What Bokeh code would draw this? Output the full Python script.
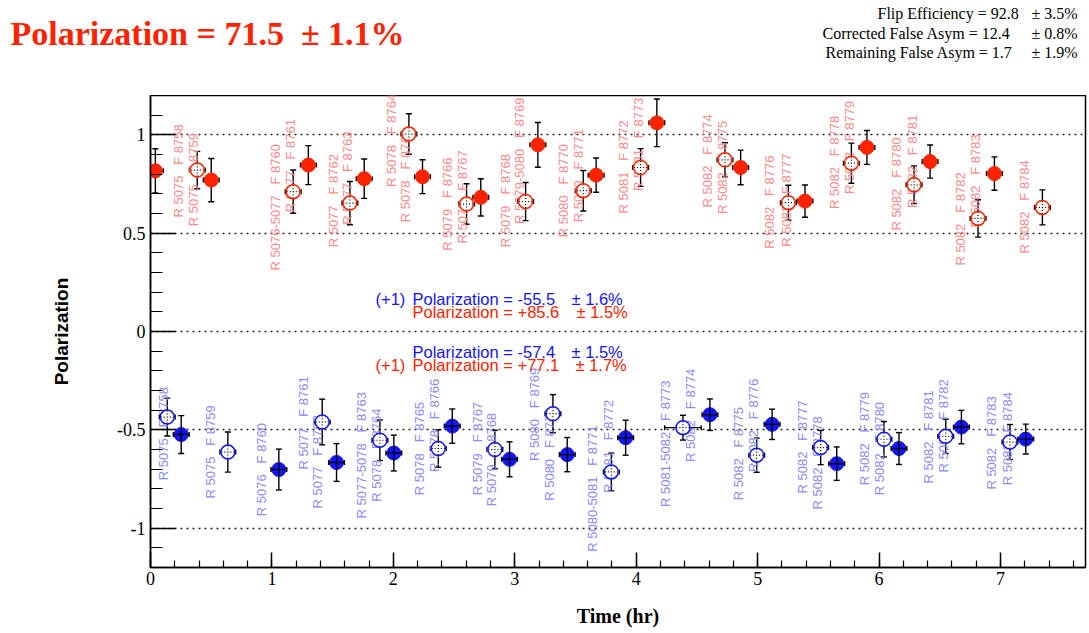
import numpy as np
from bokeh.plotting import figure
from bokeh.models import (ColumnDataSource, Whisker, TeeHead, Label,
                          SingleIntervalTicker)
from bokeh.core.properties import value
from bokeh.embed import file_html
from bokeh.resources import INLINE

# ---------------------------------------------------------------- data
# Upper band: (+1) polarization, filled = one spin state, open = the other
t_red_fill = [0.04, 0.50, 1.30, 1.76, 2.24, 2.72, 3.19, 3.67, 4.17, 4.86, 5.39, 5.90, 6.42, 6.95]
p_red_fill = [0.817, 0.770, 0.846, 0.777, 0.787, 0.682, 0.949, 0.795, 1.061, 0.834, 0.663, 0.936, 0.864, 0.803]
e_red_fill = [0.112, 0.110, 0.099, 0.100, 0.086, 0.095, 0.114, 0.087, 0.121, 0.088, 0.082, 0.086, 0.084, 0.085]

t_red_open = [0.385, 1.175, 1.642, 2.128, 2.603, 3.089, 3.564, 4.036, 4.731, 5.253, 5.772, 6.288, 6.815, 7.345]
p_red_open = [0.821, 0.711, 0.653, 1.004, 0.648, 0.661, 0.716, 0.834, 0.873, 0.655, 0.856, 0.746, 0.575, 0.631]
e_red_open = [0.095, 0.110, 0.110, 0.103, 0.103, 0.097, 0.103, 0.096, 0.087, 0.089, 0.102, 0.096, 0.095, 0.089]

# Lower band
t_blue_open = [0.138, 0.637, 1.414, 1.889, 2.370, 2.836, 3.314, 3.795, 4.385, 4.992, 5.519, 6.040, 6.549, 7.078]
p_blue_open = [-0.435, -0.613, -0.460, -0.553, -0.595, -0.600, -0.418, -0.714, -0.489, -0.629, -0.590, -0.548, -0.533, -0.562]
e_blue_open = [0.096, 0.102, 0.116, 0.103, 0.095, 0.098, 0.097, 0.096, 0.063, 0.087, 0.087, 0.090, 0.087, 0.089]
w_blue_open = [0.065, 0.065, 0.065, 0.065, 0.065, 0.065, 0.065, 0.065, 0.150, 0.065, 0.065, 0.065, 0.065, 0.065]

t_blue_fill = [0.253, 1.057, 1.532, 2.004, 2.485, 2.957, 3.432, 3.913, 4.607, 5.119, 5.651, 6.164, 6.678, 7.208]
p_blue_fill = [-0.524, -0.702, -0.666, -0.618, -0.481, -0.650, -0.626, -0.540, -0.423, -0.472, -0.672, -0.595, -0.486, -0.547]
e_blue_fill = [0.096, 0.104, 0.096, 0.091, 0.087, 0.089, 0.087, 0.089, 0.080, 0.077, 0.085, 0.081, 0.085, 0.076]

time_halfwidth = 0.065

# Run / flip tags
flips = list(range(8758, 8785))
runs_upper = ["5075", "5075", "5076-5077", "5077", "5077", "5077", "5078", "5078",
              "5079", "5079", "5079", "5079-5080", "5080", "5080", "5081", "5081"] + ["5082"] * 11
runs_lower = ["5075", "5075", "5076", "5077", "5077", "5077-5078", "5078", "5078",
              "5078", "5079", "5079", "5080", "5080", "5080-5081", "5081", "5081-5082"] + ["5082"] * 11

# tag anchors (time, polarization) where each vertical tag starts
tag_t_upper = [0.228, 0.352, 1.030, 1.153, 1.505, 1.625, 1.983, 2.100, 2.449, 2.568, 2.924, 3.042, 3.405, 3.523,
               3.894, 4.017, 4.586, 4.714, 5.096, 5.239, 5.629, 5.758, 6.145, 6.274, 6.667, 6.796, 7.194]
tag_p_upper = [0.580, 0.535, 0.310, 0.606, 0.428, 0.543, 0.735, 0.555, 0.411, 0.447, 0.428, 0.547, 0.479, 0.555,
               0.600, 0.715, 0.631, 0.597, 0.421, 0.431, 0.623, 0.699, 0.513, 0.628, 0.335, 0.529, 0.397]
tag_t_lower = [0.110, 0.494, 0.912, 1.263, 1.378, 1.736, 1.862, 2.218, 2.339, 2.691, 2.809, 3.163, 3.284, 3.643,
               3.770, 4.242, 4.448, 4.846, 4.965, 5.368, 5.492, 5.881, 6.007, 6.403, 6.530, 6.925, 7.057]
tag_p_lower = [-0.756, -0.849, -0.939, -0.702, -0.900, -0.951, -0.866, -0.832, -0.714, -0.832, -0.888, -0.658,
               -0.861, -1.120, -0.821, -0.892, -0.663, -0.858, -0.714, -0.824, -0.905, -0.782, -0.832, -0.773,
               -0.717, -0.804, -0.782]

y_ticks = [-1, -0.5, 0, 0.5, 1]
y_tick_labels = ["-1", "-0.5", "0", "0.5", "1"]

# ---------------------------------------------------------------- layout
W, H = 1089, 633
HEAD = 95                                    # height of the header strip
FL, FR, FT, FB = 150, 1085, HEAD, 567        # frame edges on the page
X0, X1 = 0.0, 7.7
Y0, Y1 = -1.2, 1.2

def cx(px):
    return X0 + (px - FL) / (FR - FL) * (X1 - X0)

def cy(py):
    return Y1 - (py - FT) / (FB - FT) * (Y1 - Y0)

RED = "#ff2200"
BLUE = "#1414ff"
RED_TAG = "#ff8a8a"
BLUE_TAG = "#8a8aff"
SERIF = "Liberation Serif"
SANS = "Liberation Sans"

# ---------------------------------------------------------------- header strip
head = figure(width=W, height=HEAD, x_range=(0, W), y_range=(HEAD, 0),
              output_backend="svg", toolbar_location=None,
              x_axis_location=None, y_axis_location=None,
              min_border=0, outline_line_color=None)
head.grid.visible = False

def head_text(text, px, py, color="black", size="16px", style="normal"):
    head.add_layout(Label(x=px, y=py, text=text, text_color=color,
                          text_font=SERIF, text_font_size=size,
                          text_font_style=style, text_align="left",
                          text_baseline="middle"))

head_text("Polarization = 71.5\u00a0 \u00b1 1.1%", 10, 33, RED, size="34px", style="bold")
head_text("Flip Efficiency = 92.8", 877, 13)
head_text("\u00b1 3.5%", 1031, 13)
head_text("Corrected False Asym = 12.4", 822, 33)
head_text("\u00b1 0.8%", 1031, 33)
head_text("Remaining False Asym = 1.7", 825, 52)
head_text("\u00b1 1.9%", 1031, 52)

# ---------------------------------------------------------------- main plot
p = figure(width=W, height=H - HEAD, x_range=(X0, X1), y_range=(Y0, Y1),
           output_backend="svg", toolbar_location=None,
           min_border_left=FL, min_border_right=W - FR,
           min_border_top=0, min_border_bottom=H - FB)
p.background_fill_color = "white"
p.border_fill_color = "white"
p.outline_line_color = "black"
p.outline_line_width = 1.5

p.xgrid.visible = False
p.ygrid.ticker = SingleIntervalTicker(interval=0.5, num_minor_ticks=5)
p.ygrid.grid_line_color = "#222222"
p.ygrid.grid_line_width = 1.6
p.ygrid.grid_line_dash = "2 4"

xa = p.xaxis[0]
xa.ticker = SingleIntervalTicker(interval=1, num_minor_ticks=5)
xa.major_tick_in, xa.major_tick_out = 15, 0
xa.minor_tick_in, xa.minor_tick_out = 7, 0
xa.axis_line_width = 1.5
xa.major_tick_line_width = 1.5
xa.minor_tick_line_width = 1.2
xa.major_label_text_font = SERIF
xa.major_label_text_font_size = "18px"
xa.major_label_text_color = "black"
xa.major_label_standoff = 4
xa.axis_label = "Time (hr)"
xa.axis_label_text_font = SERIF
xa.axis_label_text_font_style = "bold"
xa.axis_label_text_font_size = "20px"
xa.axis_label_text_color = "black"
xa.axis_label_standoff = 17

ya = p.yaxis[0]
ya.ticker = SingleIntervalTicker(interval=0.5, num_minor_ticks=5)
ya.major_tick_in, ya.major_tick_out = 25, 0
ya.minor_tick_in, ya.minor_tick_out = 12, 0
ya.axis_line_width = 1.5
ya.major_tick_line_width = 1.5
ya.minor_tick_line_width = 1.2
ya.major_label_overrides = {v: s for v, s in zip(y_ticks, y_tick_labels)}
ya.major_label_text_font = SERIF
ya.major_label_text_font_size = "18px"
ya.major_label_text_color = "black"
ya.major_label_standoff = 5
ya.axis_label = "Polarization"
ya.axis_label_text_font = SANS
ya.axis_label_text_font_style = "bold"
ya.axis_label_text_font_size = "19px"
ya.axis_label_text_color = "black"
ya.axis_label_standoff = 42

# ---------------------------------------------------------------- run/flip tags
def tag_source(ts, ps, runs):
    texts = [f"R {r}\u00a0\u00a0 F {f}" for r, f in zip(runs, flips)]
    return ColumnDataSource(dict(t=ts, p=ps, text=texts))

for ts, ps, runs, col in ((tag_t_upper, tag_p_upper, runs_upper, RED_TAG),
                          (tag_t_lower, tag_p_lower, runs_lower, BLUE_TAG)):
    p.text(x="t", y="p", text="text", source=tag_source(ts, ps, runs),
           angle=np.pi / 2, text_align="left", text_baseline="middle",
           text_font=value(SANS), text_font_size="13px", text_color=col)

# ---------------------------------------------------------------- points
def point_source(ts, ps, es, ws):
    ts, ps, es, ws = map(np.asarray, (ts, ps, es, ws))
    return ColumnDataSource(dict(t=ts, p=ps, lo=ps - es, hi=ps + es,
                                 tl=ts - ws, th=ts + ws))

def add_errors(src, level):
    for dim, base, lo, hi, size in (("height", "t", "lo", "hi", 6),
                                    ("width", "p", "tl", "th", 5)):
        p.add_layout(Whisker(
            source=src, base=base, lower=lo, upper=hi, dimension=dim,
            line_color="black", line_width=1.4, level=level,
            upper_head=TeeHead(size=size, line_color="black", line_width=1.4),
            lower_head=TeeHead(size=size, line_color="black", line_width=1.4)))

n = len(t_red_fill)
src_rf = point_source(t_red_fill, p_red_fill, e_red_fill, [time_halfwidth] * n)
src_ro = point_source(t_red_open, p_red_open, e_red_open, [time_halfwidth] * n)
src_bo = point_source(t_blue_open, p_blue_open, e_blue_open, w_blue_open)
src_bf = point_source(t_blue_fill, p_blue_fill, e_blue_fill, [time_halfwidth] * n)

for s in (src_rf, src_ro, src_bo):
    add_errors(s, "underlay")
add_errors(src_bf, "overlay")

p.scatter(x="t", y="p", source=src_rf, marker="circle", size=14,
          fill_color=RED, line_color=RED)
for s, col in ((src_ro, RED), (src_bo, BLUE)):
    # hollow marker: white interior with a faint dotted cross, coloured ring
    p.scatter(x="t", y="p", source=s, marker="circle", size=14,
              fill_color="white", line_color=None)
    p.scatter(x="t", y="p", source=s, marker="cross", size=13,
              line_color="black", line_width=1.2, line_dash="1 2")
    p.scatter(x="t", y="p", source=s, marker="circle", size=14,
              fill_color=None, line_color=col, line_width=1.5)
p.scatter(x="t", y="p", source=src_bf, marker="circle", size=14,
          fill_color=BLUE, line_color=BLUE)

# ---------------------------------------------------------------- summary texts
def put(text, px, py, color):
    p.add_layout(Label(x=cx(px), y=cy(py), text=text, text_color=color,
                       text_font=SANS, text_font_size="16.5px",
                       text_align="left", text_baseline="middle"))

put("(+1)", 375, 298, BLUE)
put("Polarization = -55.5", 412, 298, BLUE)
put("\u00b1 1.6%", 571, 298, BLUE)
put("Polarization = +85.6", 412, 311, RED)
put("\u00b1 1.5%", 576, 311, RED)

put("Polarization = -57.4", 412, 351, BLUE)
put("\u00b1 1.5%", 571, 351, BLUE)
put("(+1)", 375, 364, RED)
put("Polarization = +77.1", 412, 364, RED)
put("\u00b1 1.7%", 575, 364, RED)

# two independent roots stacked on the page: header strip, then the plot
open("out.html", "w").write(file_html([head, p], INLINE))
